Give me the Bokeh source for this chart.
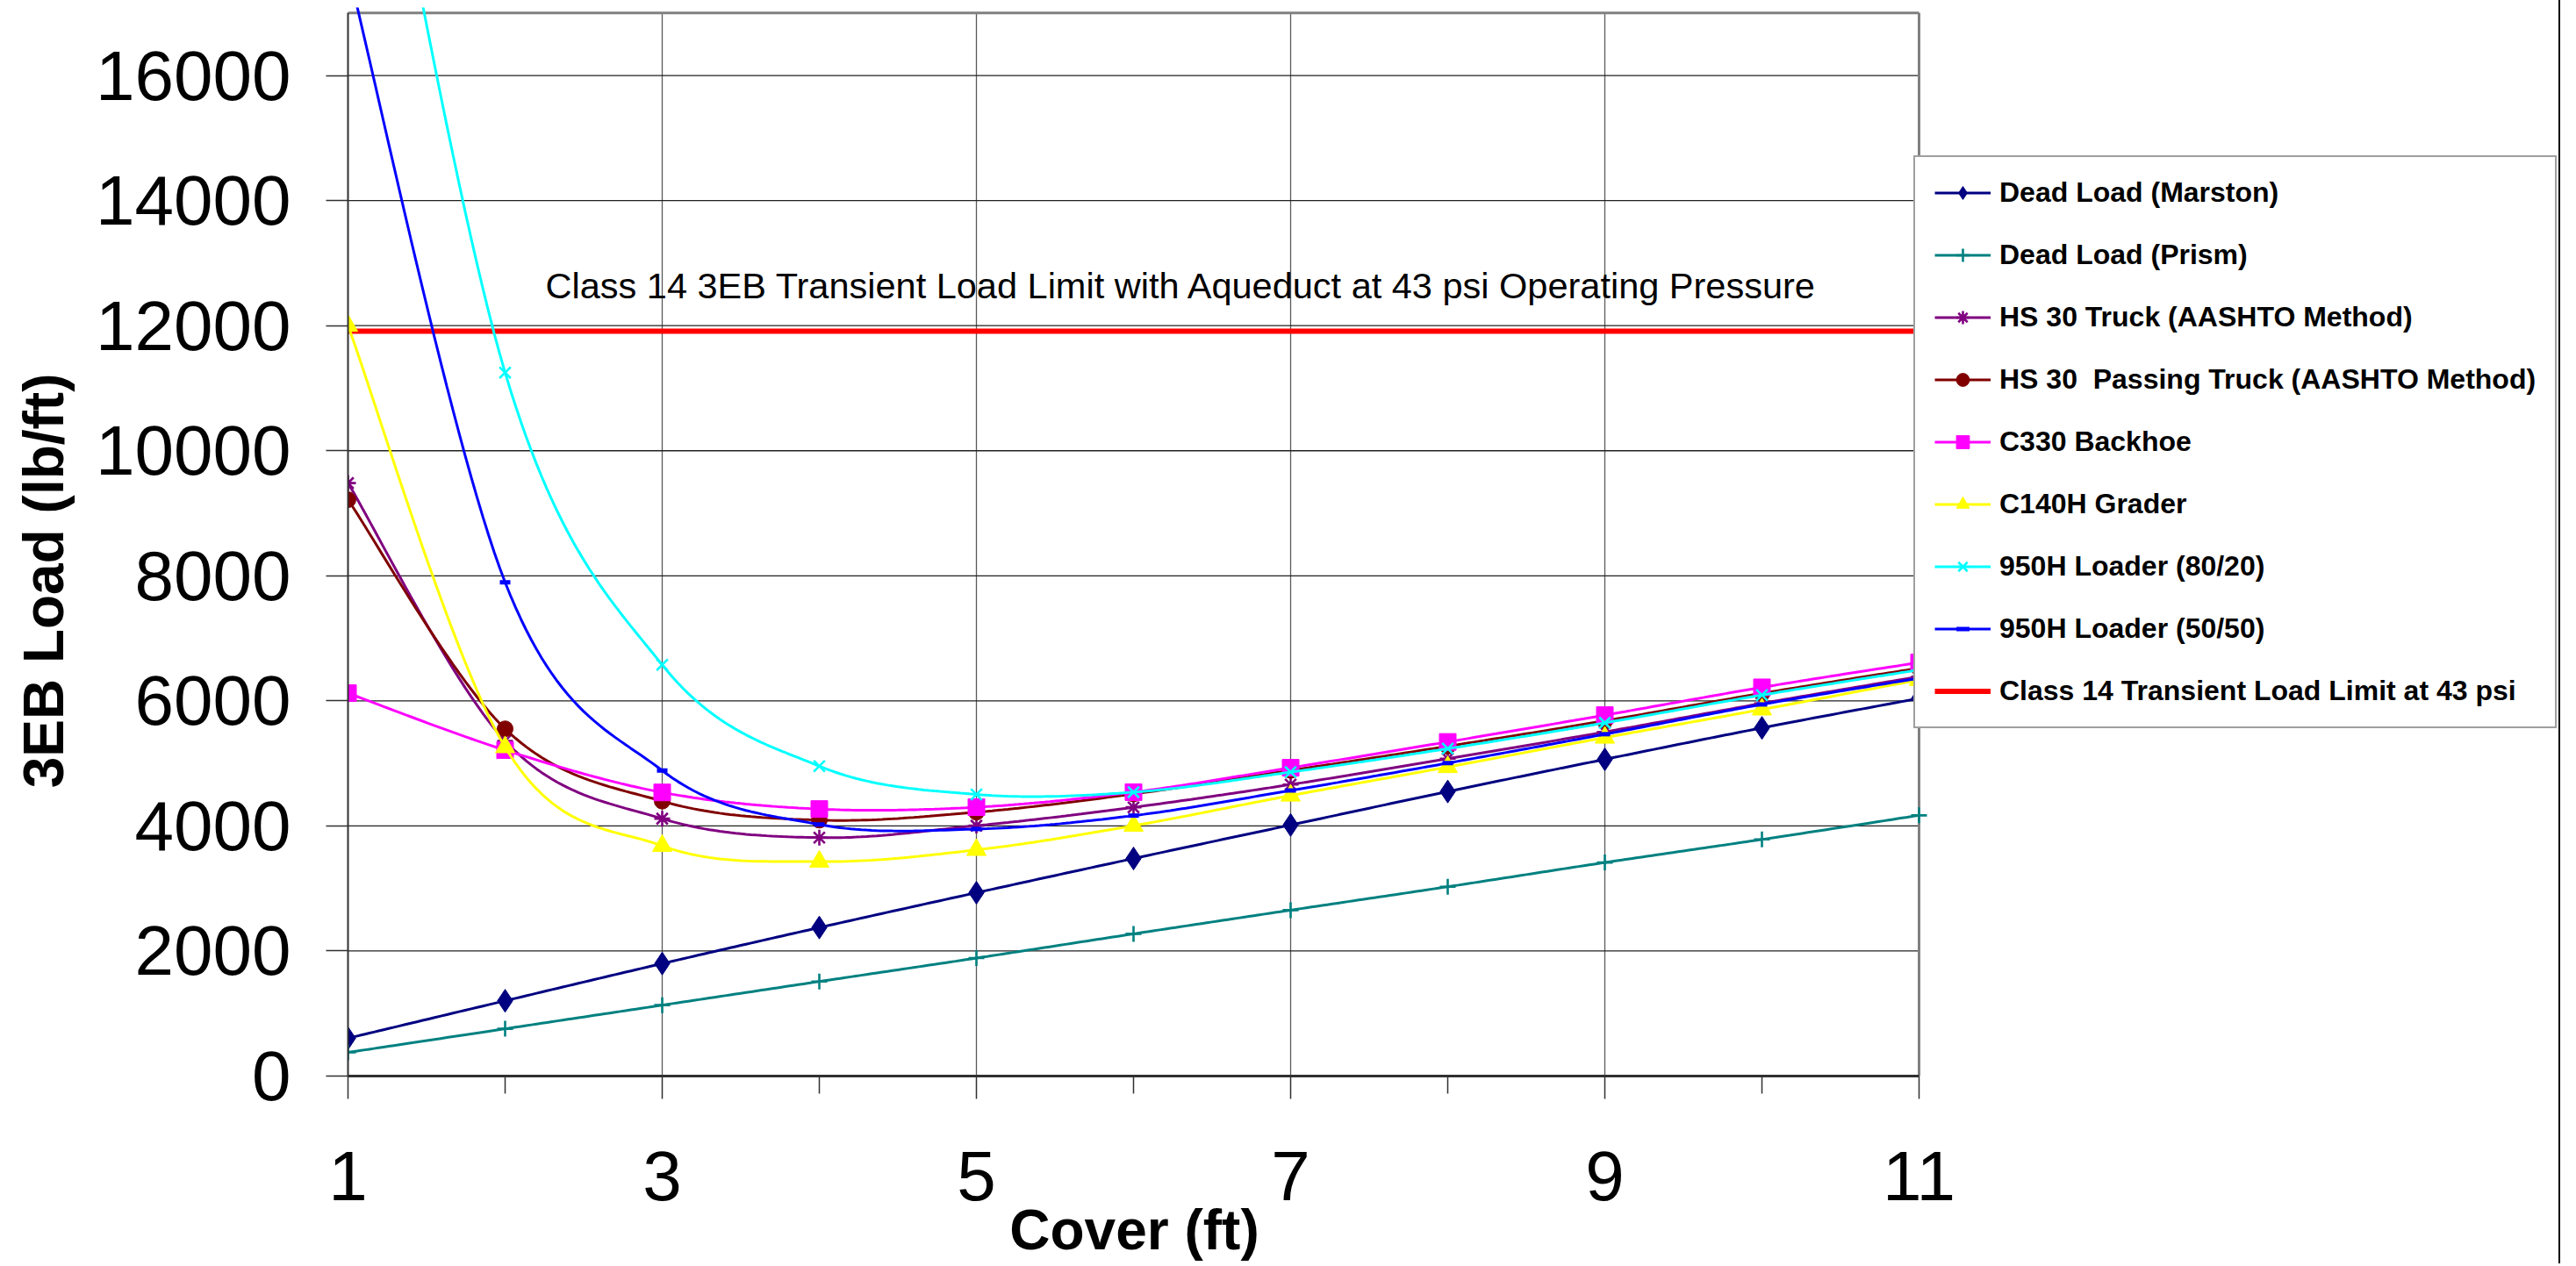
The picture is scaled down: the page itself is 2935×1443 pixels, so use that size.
import numpy as np
from bokeh.plotting import figure
from bokeh.models import (Range1d, FixedTicker, Legend, LegendItem, Label,
                          BasicTickFormatter)
from bokeh.embed import file_html
from bokeh.resources import INLINE

# ---------------- data ----------------
cover = [1, 2, 3, 4, 5, 6, 7, 8, 9, 10, 11]
dead_marston = [605, 1204, 1799, 2375, 2932, 3479, 4015, 4550, 5065, 5568, 6040]
dead_prism = [378, 756, 1134, 1512, 1887, 2274, 2653, 3028, 3415, 3784, 4169]
hs30_truck = [9483, 5360, 4116, 3813, 4004, 4298, 4662, 5075, 5503, 5960, 6388]
hs30_passing = [9217, 5553, 4396, 4093, 4220, 4512, 4888, 5274, 5681, 6121, 6524]
c330_backhoe = [6123, 5213, 4536, 4270, 4300, 4540, 4931, 5344, 5772, 6216, 6614]
c140h_grader = [12000, 5260, 3682, 3430, 3617, 4004, 4486, 4942, 5412, 5863, 6335]
loader_80_20 = [23400, 11250, 6576, 4956, 4504, 4540, 4861, 5236, 5649, 6093, 6496]
loader_50_50 = [17700, 7896, 4886, 4023, 3950, 4165, 4567, 5005, 5467, 5943, 6362]
limit_43psi = [11910] * 11

x_major_ticks = [1, 3, 5, 7, 9, 11]
x_minor_ticks = [2, 4, 6, 8, 10]
y_ticks = [0, 2000, 4000, 6000, 8000, 10000, 12000, 14000, 16000]
x_min, x_max = 1, 11
y_min, y_max = 0, 17000

series_names = [
    "Dead Load (Marston)",
    "Dead Load (Prism)",
    "HS 30 Truck (AASHTO Method)",
    "HS 30  Passing Truck (AASHTO Method)",
    "C330 Backhoe",
    "C140H Grader",
    "950H Loader (80/20)",
    "950H Loader (50/50)",
]
limit_name = "Class 14 Transient Load Limit at 43 psi"
annotation_text = "Class 14 3EB Transient Load Limit with Aqueduct at 43 psi Operating Pressure"
x_title = "Cover (ft)"
y_title = "3EB Load (lb/ft)"


def smooth(xs, ys, n=30):
    """Excel-style smoothed line: cubic Bezier through each pair of points."""
    P = np.column_stack([np.asarray(xs, float), np.asarray(ys, float)])
    N = len(P)
    out = []
    t = np.linspace(0, 1, n + 1)[:, None]
    for i in range(N - 1):
        p0 = P[i - 1] if i > 0 else P[i]
        p1, p2 = P[i], P[i + 1]
        p3 = P[i + 2] if i + 2 < N else P[i + 1]
        c1 = p1 + (p2 - p0) / 6.0
        c2 = p2 - (p3 - p1) / 6.0
        seg = ((1 - t) ** 3) * p1 + 3 * ((1 - t) ** 2) * t * c1 + 3 * (1 - t) * t ** 2 * c2 + t ** 3 * p2
        out.append(seg if i == 0 else seg[1:])
    out = np.vstack(out)
    return out[:, 0], out[:, 1]


# ---------------- layout ----------------
W, H = 2917, 1440
LEFT, TOP, BOTTOM = 396, 8, 211          # pixel borders around the frame
PX_PER_X = 179.0                          # pixels per foot of cover
PX_PER_Y = 142.9 / 2000.0                 # pixels per lb/ft
frame_w = W - LEFT
frame_h = H - TOP - BOTTOM
x_range = Range1d(x_min, x_min + frame_w / PX_PER_X)   # frame extends under the legend
y_range = Range1d(y_min, y_min + frame_h / PX_PER_Y)

p = figure(width=W, height=H, x_range=x_range, y_range=y_range,
           output_backend="svg", toolbar_location=None,
           min_border_left=LEFT, min_border_right=0, min_border_top=TOP, min_border_bottom=BOTTOM)
p.styles = {"border-right": "2px solid #000000"}
p.background_fill_color = "white"
p.border_fill_color = "white"
p.outline_line_color = None

# axes
xa = p.xaxis[0]
xa.bounds = (x_min, x_max)
xa.ticker = FixedTicker(ticks=x_major_ticks, minor_ticks=x_minor_ticks)
xa.major_tick_out = 26
xa.major_tick_in = 0
xa.minor_tick_out = 20
xa.minor_tick_in = 0
xa.major_tick_line_color = "#303030"
xa.minor_tick_line_color = "#303030"
xa.major_tick_line_width = 1.5
xa.minor_tick_line_width = 1.5
xa.axis_line_color = "#303030"
xa.axis_line_width = 3
xa.major_label_text_font = "Liberation Sans"
xa.major_label_text_font_size = "80px"
xa.major_label_text_color = "black"
xa.major_label_standoff = 60
# trailing no-break spaces shift the centred title left to the centre of the data area
xa.axis_label = x_title + "\u00a0" * 41
xa.axis_label_text_font = "Liberation Sans"
xa.axis_label_text_font_style = "bold"
xa.axis_label_text_font_size = "64px"
xa.axis_label_text_color = "black"
xa.axis_label_standoff = -5

ya = p.yaxis[0]
ya.bounds = (y_min, y_max)
ya.ticker = FixedTicker(ticks=y_ticks)
ya.formatter = BasicTickFormatter(use_scientific=False)
ya.major_tick_out = 25
ya.major_tick_in = 0
ya.minor_tick_line_color = None
ya.major_tick_line_color = "#303030"
ya.major_tick_line_width = 1.5
ya.axis_line_color = "#303030"
ya.axis_line_width = 2
ya.major_label_text_font = "Liberation Sans"
ya.major_label_text_font_size = "80px"
ya.major_label_text_color = "black"
ya.major_label_standoff = 40
ya.axis_label = y_title + "\u00a0" * 5
ya.axis_label_text_font = "Liberation Sans"
ya.axis_label_text_font_style = "bold"
ya.axis_label_text_font_size = "64px"
ya.axis_label_text_color = "black"
ya.axis_label_standoff = 20

# grid lines limited to the data area (drawn from the tick lists)
p.xgrid.visible = False
p.ygrid.visible = False
gx = [t for t in x_major_ticks if x_min < t < x_max]
p.segment(x0=gx, y0=[y_min] * len(gx), x1=gx, y1=[y_max] * len(gx),
          line_color="#5a5a5a", line_width=1.3)
gy = [t for t in y_ticks if t > y_min]
p.segment(x0=[x_min] * len(gy), y0=gy, x1=[x_max] * len(gy), y1=gy,
          line_color="#202020", line_width=1.3)
# plot-area border (top and right)
p.segment(x0=[x_min, x_max], y0=[y_max, y_min], x1=[x_max, x_max], y1=[y_max, y_max],
          line_color="#808080", line_width=3)

# limit line first (behind)
r_limit = p.line(cover, limit_43psi, line_color="#FF0000", line_width=6)

styles = [
    (dead_marston, "#000080", "diamond", 26, "fill"),
    (dead_prism, "#008080", "cross", 18, "line"),
    (hs30_truck, "#800080", "asterisk", 18, "line"),
    (hs30_passing, "#800000", "circle", 18, "fill"),
    (c330_backhoe, "#FF00FF", "square", 19, "fill"),
    (c140h_grader, "#FFFF00", "triangle", 22, "fill"),
    (loader_80_20, "#00FFFF", "x", 18, "line"),
    (loader_50_50, "#0000FF", "dash", 12, "line"),
]

items = []
for name, (vals, col, mk, sz, kind) in zip(series_names, styles):
    sx, sy = smooth(cover, vals)
    lr = p.line(sx, sy, line_color=col, line_width=3)
    if kind == "fill":
        mr = p.scatter(cover, vals, marker=mk, size=sz, fill_color=col, line_color=col, line_width=1)
    else:
        lw = 5 if mk == "dash" else 2.6
        mr = p.scatter(cover, vals, marker=mk, size=sz, line_color=col, fill_color=col, line_width=lw)
    items.append(LegendItem(label=name, renderers=[lr, mr]))
items.append(LegendItem(label=limit_name, renderers=[r_limit]))

legend = Legend(items=items, location=(1784, 396))
legend.label_text_font = "Liberation Sans"
legend.label_text_font_style = "bold"
legend.label_text_font_size = "32px"
legend.label_text_color = "black"
legend.glyph_width = 64
legend.glyph_height = 37
legend.label_height = 37
legend.label_standoff = 10
legend.spacing = 34
legend.padding = 22
legend.margin = 0
legend.border_line_color = "#404040"
legend.border_line_width = 2
legend.background_fill_color = "white"
legend.background_fill_alpha = 1.0
p.add_layout(legend)

# annotation text
p.add_layout(Label(x=2.257, y=12640, text=annotation_text, text_font="Liberation Sans",
                   text_font_size="41.5px", text_color="black", text_baseline="alphabetic",
                   text_align="left"))

open("out.html", "w").write(file_html(p, INLINE))
